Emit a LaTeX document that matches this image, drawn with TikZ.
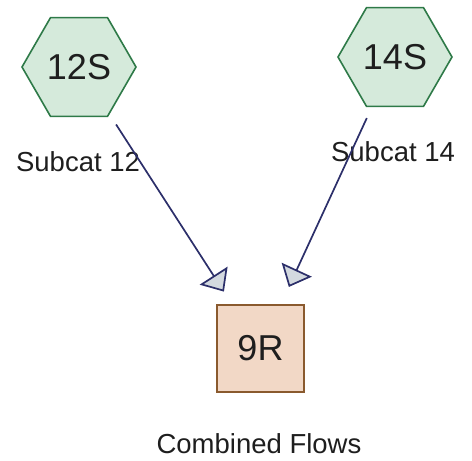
\documentclass[tikz,border=0pt]{standalone}
\usepackage{fontspec}
\setmainfont{Liberation Sans}
\usetikzlibrary{shapes.geometric,arrows.meta}
\definecolor{hexfill}{HTML}{D5EADB}
\definecolor{hexdraw}{HTML}{2E7A48}
\definecolor{sqfill}{HTML}{F2D8C6}
\definecolor{sqdraw}{HTML}{8A5A2E}
\definecolor{edgecol}{HTML}{2C2F6A}
\definecolor{tipfill}{HTML}{D3D9DF}
\definecolor{txt}{HTML}{1E1E1E}
\tikzset{
  hexnode/.style={regular polygon, regular polygon sides=6, minimum size=114pt, inner sep=0pt,
    fill=hexfill, draw=hexdraw, line width=1.6pt, text=txt, font=\fontsize{36}{40}\selectfont},
  sqnode/.style={rectangle, minimum size=87pt, inner sep=0pt,
    fill=sqfill, draw=sqdraw, line width=1.6pt, text=txt, font=\fontsize{36}{40}\selectfont},
  lbl/.style={text=txt, font=\fontsize{27.5}{30}\selectfont, inner sep=0pt},
  flow/.style={draw=edgecol, line width=1.7pt,
    -{Triangle[length=19pt, width=33pt, fill=tipfill, line join=miter]}}
}
\begin{document}
\begin{tikzpicture}[x=1pt,y=-1pt]
\useasboundingbox (0,0) rectangle (472,461);
\node[hexnode] (h12) at (79,67) {12S};
\node[hexnode] (h14) at (395,57) {14S};
\node[sqnode] (r9) at (260.5,348.5) {9R};
\node[lbl] (l12) at (78,162) {Subcat 12};
\node[lbl] (l14) at (393,152) {Subcat 14};
\node[lbl] (lc) at (259,444) {Combined Flows};
\draw[flow, shorten <=12pt, shorten >=15pt] (h12) -- (r9);
\draw[flow, shorten <=12pt, shorten >=19pt] (h14) -- (r9);
\end{tikzpicture}
\end{document}
